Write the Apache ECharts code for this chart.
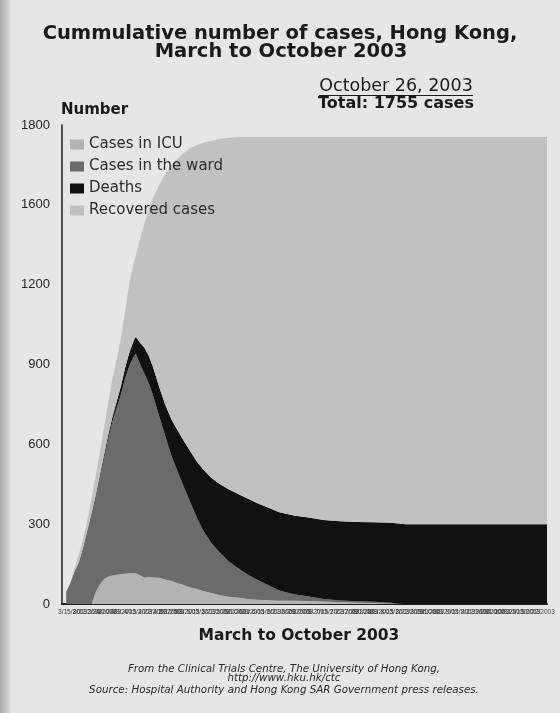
<!DOCTYPE html>
<html>
<head>
<meta charset="utf-8">
<script src="https://cdn.jsdelivr.net/npm/echarts@6/dist/echarts.min.js"></script>
<style>
  html, body { margin: 0; padding: 0; background: #e6e6e6; }
  #chart { width: 560px; height: 713px; }
</style>
</head>
<body>
<div id="chart"></div>
<script>
// Report dates (2003) and the number of patients in each state on that date.
const dates = [
  '2003-03-12', '2003-03-14', '2003-03-16', '2003-03-18', '2003-03-20', '2003-03-22', '2003-03-24',
  '2003-03-26', '2003-03-28', '2003-03-30', '2003-04-01', '2003-04-03', '2003-04-05', '2003-04-07',
  '2003-04-09', '2003-04-11', '2003-04-13', '2003-04-14', '2003-04-16', '2003-04-18', '2003-04-20',
  '2003-04-22', '2003-04-25', '2003-04-28', '2003-05-01', '2003-05-04', '2003-05-07', '2003-05-10',
  '2003-05-13', '2003-05-16', '2003-05-20', '2003-05-24', '2003-05-28', '2003-06-01', '2003-06-06',
  '2003-06-11', '2003-06-16', '2003-06-21', '2003-06-28', '2003-07-05', '2003-07-12', '2003-07-20',
  '2003-07-28', '2003-08-05', '2003-08-13', '2003-08-20', '2003-10-26'
];
const icuCases = [
  0, 0, 0, 0, 0, 0, 0,
  45, 74, 94, 103, 107, 110, 112,
  115, 116, 116, 116, 108, 99, 102,
  100, 99, 92, 86, 78, 70, 62,
  56, 49, 41, 33, 27, 24, 19,
  16, 14, 12, 12, 11, 9, 7,
  5, 4, 3, 0, 0
];
const wardCases = [
  46, 80, 124, 156, 210, 271, 333,
  357, 402, 456, 520, 581, 629, 677,
  735, 780, 813, 824, 794, 768, 731,
  688, 609, 538, 468, 416, 366, 318,
  267, 226, 186, 159, 134, 113, 92,
  73, 56, 39, 25, 17, 10, 6,
  5, 4, 2, 0, 0
];
const deaths = [
  0, 0, 0, 1, 2, 4, 6,
  8, 10, 12, 15, 18, 24, 31,
  40, 50, 61, 64, 80, 97, 103,
  106, 110, 118, 138, 156, 174, 192,
  212, 230, 246, 258, 270, 278, 285,
  289, 292, 294, 296, 297, 297, 298,
  298, 299, 300, 300, 300
];
const recoveredCases = [
  0, 2, 11, 29, 33, 38, 59,
  72, 85, 106, 123, 144, 159, 181,
  215, 263, 291, 306, 389, 464, 543,
  628, 757, 868, 958, 1025, 1086, 1142,
  1190, 1228, 1268, 1298, 1321, 1340, 1359,
  1377, 1393, 1410, 1422, 1430, 1439, 1444,
  1447, 1448, 1450, 1455, 1455
];
const seriesNames = ['Cases in ICU', 'Cases in the ward', 'Deaths', 'Recovered cases'];
const yTickLabels = ['0', '300', '600', '900', '1200', '1600', '1800'];

const seriesValues = [icuCases, wardCases, deaths, recoveredCases];
const seriesColors = ['#b3b3b3', '#6b6b6b', '#111111', '#c1c1c1'];

const chart = echarts.init(document.getElementById('chart'), null, { renderer: 'canvas' });

function fmtDate(v) {
  const d = new Date(v);
  return (d.getMonth() + 1) + '/' + d.getDate() + '/' + d.getFullYear();
}

const option = {
  backgroundColor: '#e6e6e6',
  animation: false,
  grid: { left: 62, right: 13, top: 125, bottom: 109, containLabel: false },
  legend: {
    orient: 'vertical',
    left: 70,
    top: 137,
    padding: 0,
    itemWidth: 14,
    itemHeight: 10,
    itemGap: 7,
    icon: 'rect',
    selectedMode: false,
    textStyle: { fontFamily: 'DejaVu Sans', fontSize: 15, color: '#2b2b2b' },
    data: seriesNames
  },
  xAxis: {
    type: 'time',
    min: '2003-03-10',
    max: '2003-10-26',
    splitNumber: 30,
    axisLine: { show: true, lineStyle: { color: '#1e1e1e', width: 2 } },
    axisTick: { show: false },
    splitLine: { show: false },
    axisLabel: {
      fontSize: 6.5,
      fontFamily: 'Liberation Sans',
      color: '#3a3a3a',
      margin: 5,
      hideOverlap: false,
      formatter: fmtDate
    }
  },
  yAxis: {
    type: 'value',
    min: 0,
    max: 1800,
    interval: 300,
    axisLine: { show: true, onZero: false, lineStyle: { color: '#1e1e1e', width: 1.5 } },
    axisTick: { show: false },
    splitLine: { show: false },
    axisLabel: {
      fontSize: 13,
      fontFamily: 'Liberation Sans',
      color: '#262626',
      margin: 12,
      formatter: function (v) { return yTickLabels[Math.round(v / 300)]; }
    }
  },
  series: seriesNames.map(function (name, i) {
    return {
      name: name,
      type: 'line',
      stack: 'cases',
      symbol: 'none',
      silent: true,
      z: 2,
      lineStyle: { width: 0 },
      itemStyle: { color: seriesColors[i] },
      areaStyle: { color: seriesColors[i], opacity: 1 },
      data: dates.map(function (d, j) { return [d, seriesValues[i][j]]; })
    };
  }),
  graphic: [
    {
      type: 'rect', left: 0, top: 0, silent: true, z: 0,
      shape: { width: 12, height: 713 },
      style: {
        fill: new echarts.graphic.LinearGradient(0, 0, 1, 0, [
          { offset: 0, color: 'rgba(120,120,120,0.55)' },
          { offset: 1, color: 'rgba(120,120,120,0)' }
        ])
      }
    },
    {
      type: 'text', x: 280, y: 34, silent: true,
      style: {
        text: 'Cummulative number of cases, Hong Kong,',
        font: 'bold 19.5px "DejaVu Sans"', fill: '#1a1a1a',
        textAlign: 'center', textVerticalAlign: 'middle'
      }
    },
    {
      type: 'text', x: 281, y: 52, silent: true,
      style: {
        text: 'March to October 2003',
        font: 'bold 19.5px "DejaVu Sans"', fill: '#1a1a1a',
        textAlign: 'center', textVerticalAlign: 'middle'
      }
    },
    {
      type: 'text', x: 396, y: 86, silent: true,
      style: {
        text: 'October 26, 2003',
        font: '17.5px "DejaVu Sans"', fill: '#1a1a1a',
        textAlign: 'center', textVerticalAlign: 'middle'
      }
    },
    {
      type: 'line', silent: true,
      shape: { x1: 319, y1: 95.5, x2: 473, y2: 95.5 },
      style: { stroke: '#1a1a1a', lineWidth: 1.2 }
    },
    {
      type: 'text', x: 396, y: 104, silent: true,
      style: {
        text: 'Total: 1755 cases',
        font: 'bold 16px "DejaVu Sans"', fill: '#1a1a1a',
        textAlign: 'center', textVerticalAlign: 'middle'
      }
    },
    {
      type: 'text', x: 61, y: 110, silent: true,
      style: {
        text: 'Number',
        font: 'bold 15px "DejaVu Sans"', fill: '#1a1a1a',
        textAlign: 'left', textVerticalAlign: 'middle'
      }
    },
    {
      type: 'text', x: 299, y: 636, silent: true,
      style: {
        text: 'March to October 2003',
        font: 'bold 15.5px "DejaVu Sans"', fill: '#1a1a1a',
        textAlign: 'center', textVerticalAlign: 'middle'
      }
    },
    {
      type: 'text', x: 284, y: 669, silent: true,
      style: {
        text: 'From the Clinical Trials Centre, The University of Hong Kong,',
        font: 'italic 10.3px "DejaVu Sans"', fill: '#2a2a2a',
        textAlign: 'center', textVerticalAlign: 'middle'
      }
    },
    {
      type: 'text', x: 284, y: 678, silent: true,
      style: {
        text: 'http://www.hku.hk/ctc',
        font: 'italic 10.3px "DejaVu Sans"', fill: '#2a2a2a',
        textAlign: 'center', textVerticalAlign: 'middle'
      }
    },
    {
      type: 'text', x: 284, y: 690, silent: true,
      style: {
        text: 'Source: Hospital Authority and Hong Kong SAR Government press releases.',
        font: 'italic 10.3px "DejaVu Sans"', fill: '#2a2a2a',
        textAlign: 'center', textVerticalAlign: 'middle'
      }
    }
  ]
};

chart.setOption(option);
</script>
</body>
</html>
